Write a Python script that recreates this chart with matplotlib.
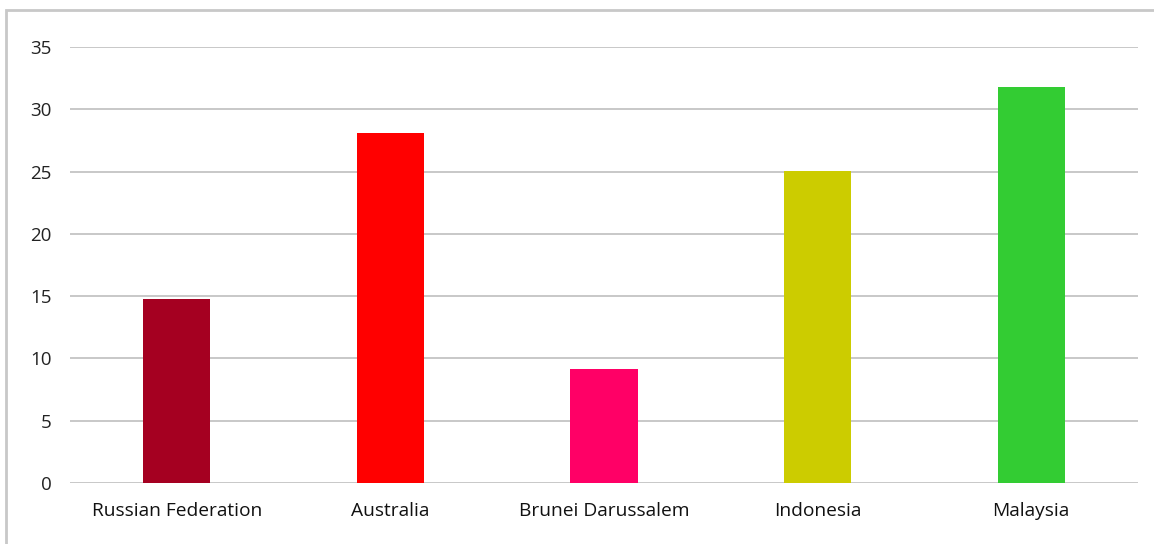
import matplotlib.pyplot as plt
from matplotlib.patches import Rectangle

countries = ["Russian Federation", "Australia", "Brunei Darussalem", "Indonesia", "Malaysia"]
values = [14.8, 28.1, 9.15, 25.05, 31.8]
colors = ["#a50021", "#ff0000", "#ff0066", "#cccc00", "#33cc33"]
yticks = [0, 5, 10, 15, 20, 25, 30, 35]

plt.rcParams["font.family"] = ["Open Sans", "DejaVu Sans"]

W, H = 1154, 544
fig = plt.figure(figsize=(W / 100, H / 100), dpi=100)

# outer chart frame (top + left visible, right/bottom run off the image)
fig.patches.append(Rectangle((6 / W, -0.05), 1.2, (H - 10) / H + 0.05,
                             transform=fig.transFigure, fill=False,
                             edgecolor="#c8c8c8", linewidth=2))

ax = fig.add_axes([70 / W, (H - 483) / H, (1138 - 70) / W, (483 - 47) / H])
x = range(len(countries))
ax.bar(x, values, width=0.315, color=colors, zorder=3)

ax.set_xlim(-0.5, len(countries) - 0.5)
ax.set_ylim(0, 35)
ax.set_yticks(yticks)
ax.set_xticks(list(x))
ax.set_xticklabels(countries, fontsize=13.8)
ax.tick_params(axis="y", labelsize=13.5, length=0, pad=13, colors="#222222")
ax.tick_params(axis="x", length=0, pad=14, colors="#111111")
ax.grid(axis="y", color="#c4c4c4", linewidth=1.3, zorder=0)
for s in ax.spines.values():
    s.set_visible(False)

fig.savefig("out.png", dpi=100)
